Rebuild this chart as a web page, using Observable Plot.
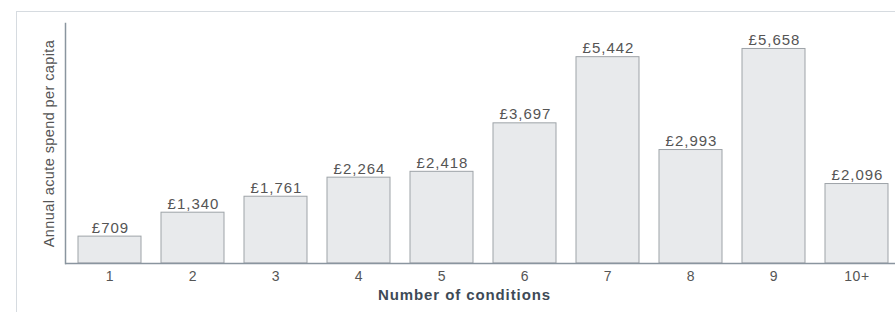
<!DOCTYPE html>
<html>
<head>
<meta charset="utf-8">
<script src="https://cdn.jsdelivr.net/npm/d3@7"></script>
<script src="https://cdn.jsdelivr.net/npm/@observablehq/plot@0.6"></script>
<style>
  html, body { margin: 0; padding: 0; background: #fff; }
  #wrap { position: relative; width: 895px; height: 312px; overflow: hidden; font-family: "Liberation Sans", Arial, sans-serif; }
  #card { position: absolute; left: 16px; top: 11px; right: -2px; bottom: -2px; border-top: 1px solid #d6dbe0; border-left: 1px solid #d6dbe0; }
  #chart { position: absolute; left: 0; top: 0; }
  .vlab text { letter-spacing: 1px; }
  .ttl-y text { letter-spacing: 0.4px; }
  .ttl-x text { letter-spacing: 0.9px; }
  [aria-label="x-axis tick label"] text { letter-spacing: 0.6px; }
</style>
</head>
<body>
<div id="wrap"><div id="card"></div><div id="chart"></div></div>
<script>
const categories = ["1", "2", "3", "4", "5", "6", "7", "8", "9", "10+"];
const spend = [709, 1340, 1761, 2264, 2418, 3697, 5442, 2993, 5658, 2096];
const valueLabels = ["£709", "£1,340", "£1,761", "£2,264", "£2,418", "£3,697", "£5,442", "£2,993", "£5,658", "£2,096"];
const yTitle = "Annual acute spend per capita";
const xTitle = "Number of conditions";

const data = categories.map((c, i) => ({cat: c, value: spend[i], label: valueLabels[i]}));

const chart = Plot.plot({
  width: 895,
  height: 312,
  marginLeft: 65,
  marginRight: 0,
  marginTop: 23,
  marginBottom: 49,
  style: {fontFamily: "Liberation Sans, Arial, sans-serif", background: "transparent"},
  x: {domain: categories, range: [64.7, 900.3], paddingInner: 0.246, paddingOuter: 0.123, label: null},
  y: {domain: [0, 6330], label: null},
  marks: [
    Plot.barY(data, {x: "cat", y: "value", fill: "#e8eaec", stroke: "#9ea3a8", strokeWidth: 1}),
    Plot.text(data, {x: "cat", y: "value", text: "label", lineAnchor: "bottom", dy: -4, dx: 0.5, fontSize: 15, fill: "#555", className: "vlab"}),
    Plot.axisX({tickSize: 0, tickPadding: 8, fontSize: 14, color: "#555", label: null}),
    Plot.axisY({ticks: [], label: null}),
    Plot.ruleY([0], {stroke: "#8a959f", strokeWidth: 1.5}),
    Plot.frame({anchor: "left", stroke: "#8a959f", strokeWidth: 1.5}),
    Plot.text([yTitle], {frameAnchor: "left", dx: -16, rotate: -90, textAnchor: "middle", lineAnchor: "middle", fontSize: 14.5, fill: "#555", text: d => d, className: "ttl-y"}),
    Plot.text([xTitle], {frameAnchor: "bottom", dy: 32, dx: -16, lineAnchor: "middle", textAnchor: "middle", fontSize: 15, fontWeight: "bold", fill: "#3e4a56", text: d => d, className: "ttl-x"})
  ]
});
document.getElementById("chart").appendChild(chart);
</script>
</body>
</html>
